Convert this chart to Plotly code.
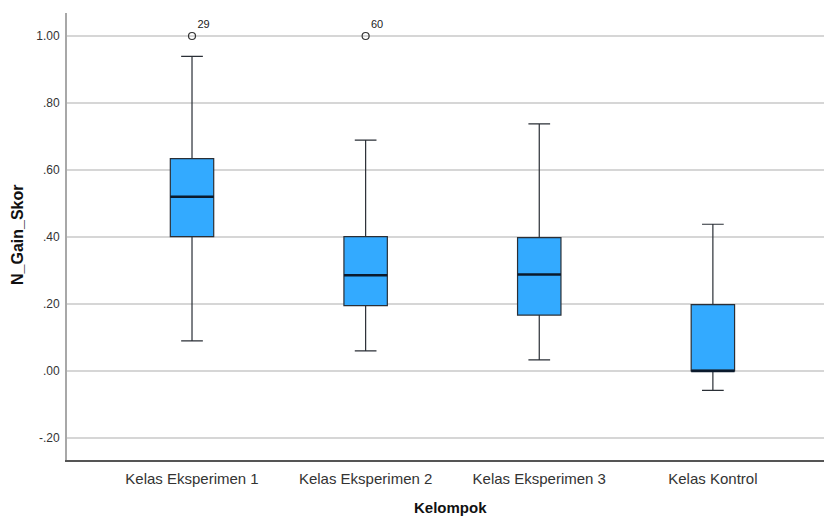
import plotly.graph_objects as go

categories = ["Kelas Eksperimen 1", "Kelas Eksperimen 2", "Kelas Eksperimen 3", "Kelas Kontrol"]
lower_whisker = [0.090, 0.060, 0.033, -0.058]
q1 = [0.401, 0.195, 0.167, 0.000]
median = [0.520, 0.286, 0.288, 0.000]
q3 = [0.634, 0.401, 0.398, 0.198]
upper_whisker = [0.939, 0.689, 0.738, 0.438]
outlier_group = [0, 1]
outlier_value = [1.00, 1.00]
outlier_label = ["29", "60"]
y_ticks = [-0.2, 0.0, 0.2, 0.4, 0.6, 0.8, 1.0]
y_tick_labels = ["-.20", ".00", ".20", ".40", ".60", ".80", "1.00"]

BOX_W = 0.25
fig = go.Figure()
for i, c in enumerate(categories):
    fig.add_trace(go.Box(
        x=[i], q1=[q1[i]], median=[median[i]], q3=[q3[i]],
        lowerfence=[lower_whisker[i]], upperfence=[upper_whisker[i]],
        width=BOX_W, whiskerwidth=0.5, boxpoints=False,
        fillcolor="#33aaff", line=dict(color="#2a2f36", width=1.2),
        showlegend=False, hoverinfo="skip"))
    fig.add_trace(go.Scatter(
        x=[i - BOX_W / 2, i + BOX_W / 2], y=[median[i], median[i]],
        mode="lines", line=dict(color="#0b1a2c", width=2.6),
        showlegend=False, hoverinfo="skip"))

fig.add_trace(go.Scatter(
    x=outlier_group, y=outlier_value, mode="markers+text",
    marker=dict(symbol="circle-open", size=7, color="#333333", line=dict(width=1.2)),
    text=outlier_label, textposition="top right",
    textfont=dict(family="Liberation Sans, Arial", size=11, color="#222222"),
    showlegend=False, hoverinfo="skip", cliponaxis=False))

fig.update_layout(
    width=824, height=517,
    margin=dict(l=67, r=0, t=13, b=57),
    paper_bgcolor="white", plot_bgcolor="white",
    font=dict(family="Liberation Sans, Arial", color="#333333"),
)
fig.update_xaxes(
    range=[-0.72, 3.64], tickvals=list(range(len(categories))), ticktext=categories,
    showgrid=False, zeroline=False, showline=True, linecolor="#555555", linewidth=1.5,
    ticks="outside", ticklen=4, tickcolor="rgba(0,0,0,0)", automargin=False,
    tickfont=dict(size=15, color="#333333"))
fig.update_yaxes(
    range=[-0.2657, 1.0687], tickvals=y_ticks, ticktext=y_tick_labels,
    showgrid=True, gridcolor="#d6d6d6", gridwidth=1.5, zeroline=False,
    showline=True, linecolor="#a8a8a8", linewidth=2, automargin=False,
    ticks="outside", ticklen=3, tickcolor="rgba(0,0,0,0)",
    tickfont=dict(size=12, color="#333333"))

fig.add_annotation(text="<b>N_Gain_Skor</b>", textangle=-90, xref="paper", yref="paper",
                   x=(18 - 67) / 757, y=(460 - 235) / 447, xanchor="center", yanchor="middle",
                   showarrow=False, font=dict(size=16, color="#111111"))
fig.add_annotation(text="<b>Kelompok</b>", xref="paper", yref="paper",
                   x=(450 - 67) / 757, y=-(507 - 460) / 447, xanchor="center", yanchor="middle",
                   showarrow=False, font=dict(size=15, color="#111111"))

fig.write_html("out.html", config={"displayModeBar": False},
               post_script="document.body.style.margin='0px';document.body.style.overflow='hidden';")
